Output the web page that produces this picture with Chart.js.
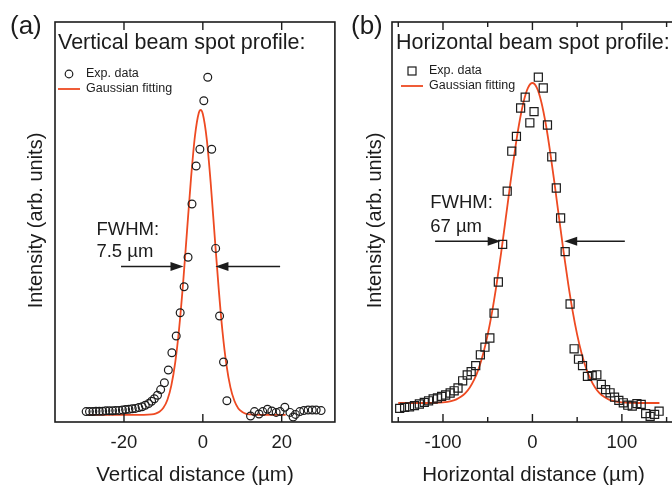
<!DOCTYPE html>
<html><head><meta charset="utf-8">
<script src="https://cdn.jsdelivr.net/npm/chart.js@4.4.1/dist/chart.umd.min.js"></script>
<style>
html,body{margin:0;padding:0;width:672px;height:486px;overflow:hidden;background:#fff;}
#ca{position:absolute;left:0;top:0;}
#cb{position:absolute;left:336px;top:0;}
</style></head><body>
<canvas id="ca" width="340" height="486"></canvas>
<canvas id="cb" width="346" height="486"></canvas>
<script>
// ---------- Panel (a): vertical profile ----------
const expAx = [-29.6,-28.75,-27.9,-27.1,-26.25,-25.4,-24.6,-23.75,-22.9,-22.1,-21.25,-20.4,-19.6,-18.75,-17.9,-17.1,-16.25,-15.4,-14.6,-13.75,-13.0,-12.3,-11.5,-10.7,-9.75,-8.75,-7.85,-6.75,-5.75,-4.75,-3.75,-2.75,-1.7,-0.75,0.25,1.25,2.25,3.25,4.25,5.25,6.1,12.1,13.1,14.25,15.2,16.4,17.5,18.6,19.6,20.8,22.1,22.9,23.5,24.6,25.6,26.7,27.75,28.75,30.0];
const expAy = [0.026,0.026,0.026,0.027,0.027,0.027,0.028,0.028,0.028,0.029,0.029,0.030,0.031,0.032,0.033,0.034,0.036,0.038,0.042,0.046,0.052,0.058,0.067,0.081,0.098,0.130,0.173,0.215,0.273,0.338,0.412,0.545,0.640,0.682,0.803,0.862,0.682,0.434,0.265,0.150,0.053,0.015,0.026,0.020,0.026,0.032,0.0275,0.024,0.026,0.037,0.024,0.0125,0.019,0.026,0.0285,0.030,0.030,0.030,0.0285];
const fitAx = [-29,-20,-15,-13,-12,-11,-10,-9,-8,-7,-6,-5,-4,-3,-2,-1,-0.55,0,1,2,3,4,5,6,7,8,9,10,11,12,14,21];
const fitAy = [0.018,0.018,0.018,0.019,0.021,0.0256,0.0355,0.055,0.091,0.149,0.235,0.348,0.479,0.609,0.715,0.774,0.780,0.770,0.7065,0.597,0.465,0.336,0.225,0.142,0.0866,0.053,0.034,0.025,0.0205,0.019,0.018,0.018];
const ticksAMajor = [-20,0,20];
const ticksAMinor = [];
const tickLabelsA = ['-20','0','20'];

// ---------- Panel (b): horizontal profile ----------
const expBx = [-148.4,-142.9,-137.4,-131.9,-126.4,-120.9,-116.1,-111,-106.2,-101.5,-97,-92,-87.5,-83.2,-78,-72.9,-68.5,-63.4,-58.2,-53.1,-47.6,-42.9,-38.1,-33.3,-28.2,-23.1,-17.9,-13.2,-8.1,-2.9,1.8,6.6,12.1,16.8,21.6,26.7,31.5,36.6,42.1,46.6,51.5,56,61.5,66.8,72,77,81.8,86.8,91.8,96.6,101.6,106.6,111.6,116.8,121.6,126.6,131.6,136.6,141.6];
const expBy = [0.034,0.0365,0.038,0.041,0.045,0.049,0.053,0.0575,0.060,0.064,0.0675,0.0725,0.078,0.085,0.103,0.1175,0.126,0.141,0.168,0.187,0.210,0.272,0.350,0.444,0.577,0.677,0.714,0.785,0.812,0.748,0.776,0.862,0.835,0.7425,0.663,0.585,0.510,0.426,0.295,0.183,0.157,0.141,0.114,0.116,0.118,0.094,0.081,0.073,0.062,0.054,0.048,0.042,0.040,0.046,0.044,0.021,0.014,0.019,0.027];
const fitBx = [-150,-130,-110,-100,-95,-90,-85,-80,-75,-70,-65,-60,-55,-50,-45,-40,-35,-30,-25,-20,-15,-10,-5,0,5,10,15,20,25,30,35,40,45,50,55,60,65,70,75,80,85,90,95,100,110,130,142];
const fitBy = [0.0475,0.0475,0.048,0.049,0.0505,0.0529,0.0567,0.0629,0.0723,0.0863,0.1063,0.1341,0.171,0.2183,0.2765,0.3453,0.4229,0.5063,0.5913,0.6724,0.7437,0.7995,0.8353,0.8475,0.8353,0.7995,0.7437,0.6724,0.5913,0.5063,0.4229,0.3453,0.2765,0.2183,0.171,0.1341,0.1063,0.0863,0.0723,0.0629,0.0567,0.0529,0.0505,0.049,0.048,0.0475,0.0475];
const ticksBMajor = [-100,0,100];
const ticksBMinor = [-150,-50,50,150];
const tickLabelsB = ['-100','0','100'];

const FIT_COLOR = '#ee4a22';
const INK = '#1c1c1c';
const SANS = '"Liberation Sans", Arial, Helvetica, sans-serif';

function pts(xs, ys){ return xs.map((v,i)=>({x:v, y:ys[i]})); }

function arrow(ctx, x1, y1, x2, y2){
  ctx.beginPath(); ctx.moveTo(x1,y1); ctx.lineTo(x2 - Math.sign(x2-x1)*10, y2); ctx.stroke();
  const d = Math.sign(x2-x1);
  ctx.beginPath(); ctx.moveTo(x2,y2); ctx.lineTo(x2-d*13,y2-4.5); ctx.lineTo(x2-d*13,y2+4.5); ctx.closePath(); ctx.fill();
}

function decor(cfg){
  return {
    id:'decor',
    afterDraw(chart){
      const {ctx, chartArea:a, scales:{x,y}} = chart;
      ctx.save();
      ctx.strokeStyle = INK; ctx.lineWidth = 1.6;
      ctx.strokeRect(a.left, a.top, a.right-a.left, a.bottom-a.top);
      ctx.lineWidth = 1.4;
      const tk = (v,len)=>{ const px = x.getPixelForValue(v); if(px < a.left-1 || px > a.right+1) return;
        ctx.beginPath(); ctx.moveTo(px,a.bottom); ctx.lineTo(px,a.bottom-len);
        ctx.moveTo(px,a.top); ctx.lineTo(px,a.top+len); ctx.stroke(); };
      cfg.major.forEach(v=>tk(v,8));
      cfg.minor.forEach(v=>tk(v,5));
      ctx.fillStyle = INK;
      ctx.font = '18.5px ' + SANS; ctx.textAlign='center'; ctx.textBaseline='alphabetic';
      cfg.major.forEach((v,i)=>ctx.fillText(cfg.labels[i], x.getPixelForValue(v), a.bottom+26));
      ctx.font = '20.5px ' + SANS;
      ctx.fillText(cfg.xTitle, (a.left+a.right)/2, a.bottom+59);
      ctx.save();
      ctx.translate(a.left - cfg.yTitleOff, (a.top+a.bottom)/2 - 1.5);
      ctx.rotate(-Math.PI/2);
      ctx.font = '20px ' + SANS; ctx.textBaseline='middle';
      ctx.fillText('Intensity (arb. units)', 0, 0);
      ctx.restore();
      ctx.textAlign='left';
      ctx.font = '26px ' + SANS;
      ctx.fillText(cfg.panel, cfg.panelX, 34);
      ctx.font = '21.5px ' + SANS;
      ctx.fillText(cfg.title, a.left + cfg.titleOff, 48.5);
      const lx = a.left + cfg.legX;
      ctx.font = '12.5px ' + SANS; ctx.textBaseline='middle';
      ctx.fillText('Exp. data', lx + 28, cfg.legY);
      ctx.fillText('Gaussian fitting', lx + 28, cfg.legY + 15);
      ctx.strokeStyle = INK; ctx.lineWidth = 1.2;
      if(cfg.square){ ctx.strokeRect(lx+11-4, cfg.legY-4, 8, 8); }
      else { ctx.beginPath(); ctx.arc(lx+11, cfg.legY, 3.8, 0, Math.PI*2); ctx.stroke(); }
      ctx.strokeStyle = FIT_COLOR; ctx.lineWidth = 1.8;
      ctx.beginPath(); ctx.moveTo(lx, cfg.legY+15); ctx.lineTo(lx+22, cfg.legY+15); ctx.stroke();
      ctx.fillStyle = INK; ctx.font = '18.5px ' + SANS; ctx.textBaseline='middle';
      ctx.fillText('FWHM:', x.getPixelForValue(cfg.fw.tx), y.getPixelForValue(cfg.fw.ty1));
      ctx.fillText(cfg.fw.text, x.getPixelForValue(cfg.fw.tx), y.getPixelForValue(cfg.fw.ty2));
      ctx.strokeStyle = INK; ctx.lineWidth = 1.5;
      const ay = y.getPixelForValue(cfg.fw.ay);
      arrow(ctx, x.getPixelForValue(cfg.fw.l0), ay, x.getPixelForValue(cfg.fw.l1), ay);
      arrow(ctx, x.getPixelForValue(cfg.fw.r0), ay, x.getPixelForValue(cfg.fw.r1), ay);
      ctx.restore();
    }
  };
}

function makeChart(id, expPts, fitPts, xmin, xmax, pad, style, radius, cfg){
  return new Chart(document.getElementById(id), {
    type:'scatter',
    data:{datasets:[
      {label:'Exp. data', data:expPts, pointStyle:style, pointRadius:radius, pointHoverRadius:radius,
       borderColor:INK, backgroundColor:'rgba(0,0,0,0)', pointBorderWidth:1.2, showLine:false, order:1},
      {label:'Gaussian fitting', data:fitPts, showLine:true, pointRadius:0, borderColor:FIT_COLOR,
       borderWidth:1.8, cubicInterpolationMode:'monotone', fill:false, order:2}
    ]},
    options:{
      responsive:false, animation:false, devicePixelRatio:1,
      layout:{padding:pad},
      plugins:{legend:{display:false}, tooltip:{enabled:false}},
      scales:{
        x:{type:'linear', min:xmin, max:xmax, display:false},
        y:{type:'linear', min:0, max:1, display:false}
      }
    },
    plugins:[decor(cfg)]
  });
}

makeChart('ca', pts(expAx,expAy), pts(fitAx,fitAy), -37.5, 33.5,
  {left:55, right:1.3, top:22, bottom:64}, 'circle', 3.9,
  {major:ticksAMajor, minor:ticksAMinor, labels:tickLabelsA, xTitle:'Vertical distance (µm)',
   yTitleOff:19, panel:'(a)', panelX:10, title:'Vertical beam spot profile:', titleOff:3,
   legX:3, legY:74, square:false,
   fw:{tx:-27, ty1:0.48, ty2:0.425, text:'7.5 µm', ay:0.389, l0:-20.75, l1:-4.9, r0:19.6, r1:3.2}});

makeChart('cb', pts(expBx,expBy), pts(fitBx,fitBy), -157, 159.5,
  {left:56, right:2, top:22, bottom:64}, 'rect', 5.7,
  {major:ticksBMajor, minor:ticksBMinor, labels:tickLabelsB, xTitle:'Horizontal distance (µm)',
   yTitleOff:17, panel:'(b)', panelX:15, title:'Horizontal beam spot profile:', titleOff:4,
   legX:9, legY:71, square:true,
   fw:{tx:-114.3, ty1:0.548, ty2:0.487, text:'67 µm', ay:0.452, l0:-108.8, l1:-35.5, r0:103.3, r1:35.5}});
</script>
</body></html>
